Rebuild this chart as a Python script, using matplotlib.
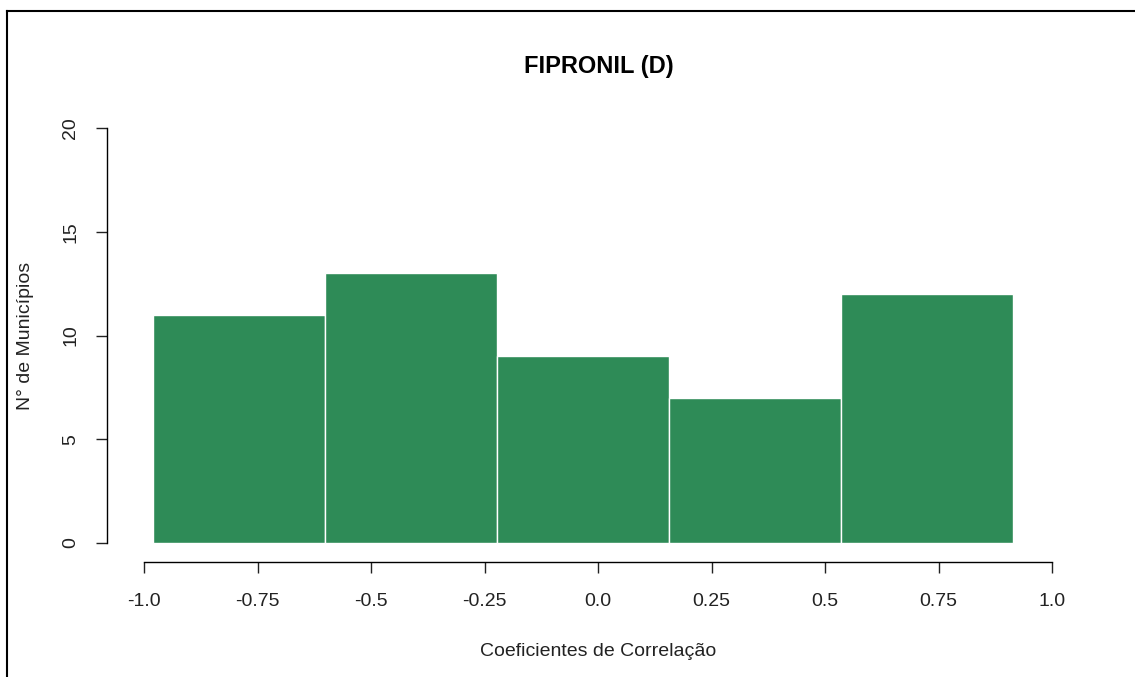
import matplotlib.pyplot as plt
from matplotlib.lines import Line2D

# histogram bins
bin_edges = [-0.98, -0.601, -0.222, 0.157, 0.536, 0.915]
counts = [11, 13, 9, 7, 12]
x_ticks = [-1.0, -0.75, -0.5, -0.25, 0.0, 0.25, 0.5, 0.75, 1.0]
x_tick_labels = ["-1.0", "-0.75", "-0.5", "-0.25", "0.0", "0.25", "0.5", "0.75", "1.0"]
y_ticks = [0, 5, 10, 15, 20]

plt.rcParams['font.family'] = ['Liberation Sans', 'DejaVu Sans']

W, H = 1135, 677
fig = plt.figure(figsize=(W / 100, H / 100), dpi=100)

# axes box in pixels (left, top, right, bottom)
L, T, R, B = 107, 110, 1090, 562
ax = fig.add_axes([L / W, 1 - B / H, (R - L) / W, (B - T) / H])

lefts = bin_edges[:-1]
widths = [bin_edges[i + 1] - bin_edges[i] for i in range(len(counts))]
ax.bar(lefts, counts, width=widths, align='edge', color='#2E8B57',
       edgecolor='white', linewidth=1.0)

ax.set_xlim(-1.0815, 1.0837)
ax.set_ylim(-0.916, 20.87)

for s in ['top', 'right']:
    ax.spines[s].set_visible(False)
ax.spines['left'].set_bounds(0, 20)
ax.spines['bottom'].set_bounds(-1, 1)
ax.spines['left'].set_linewidth(1.0)
ax.spines['bottom'].set_linewidth(1.0)

ax.set_xticks(x_ticks)
ax.set_xticklabels(x_tick_labels)
ax.set_yticks(y_ticks)
ax.set_yticklabels([str(v) for v in y_ticks], rotation=90, va='center')
ax.tick_params(axis='both', length=8, width=1.0, labelsize=14, colors='#222222')
ax.tick_params(axis='x', pad=14)
ax.tick_params(axis='y', pad=12)

ax.set_xlabel("Coeficientes de Correlação", fontsize=14, labelpad=24, color='#222222')
ax.set_ylabel("N° de Municípios", fontsize=14, labelpad=20, color='#222222')
ax.set_title("FIPRONIL (D)", fontsize=17, fontweight='bold', pad=27)

# screenshot frame (left and top edges)
fig.add_artist(Line2D([7 / W, 7 / W], [0, 1 - 11 / H], color='black', linewidth=1.5))
fig.add_artist(Line2D([7 / W, 1], [1 - 11 / H, 1 - 11 / H], color='black', linewidth=1.5))

fig.savefig("out.png", dpi=100)
